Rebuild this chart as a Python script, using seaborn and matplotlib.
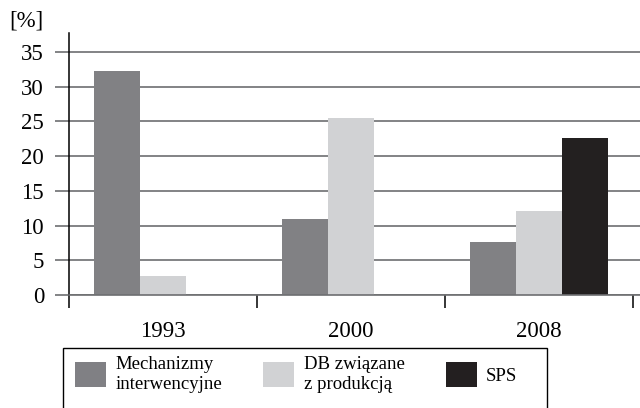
import pandas as pd
import matplotlib.pyplot as plt
import seaborn as sns
from matplotlib.patches import Patch, Rectangle

years = ["1993", "2000", "2008"]
series = ["Mechanizmy\ninterwencyjne", "DB związane\nz produkcją", "SPS"]
mechanizmy = [32.2, 10.9, 7.6]
db_produkcja = [2.8, 25.4, 12.1]
sps = [0, 0, 22.6]
colors = ["#808084", "#d1d2d4", "#231f20"]

df = pd.DataFrame({
    "rok": years * 3,
    "seria": [series[0]] * 3 + [series[1]] * 3 + [series[2]] * 3,
    "wartosc": mechanizmy + db_produkcja + sps,
})

plt.rcParams["font.family"] = ["Liberation Serif", "DejaVu Serif"]

W, H = 640, 408
fig = plt.figure(figsize=(6.4, 4.08), dpi=100)
ax = fig.add_axes([69 / W, (H - 295) / H, (W - 69) / W, (295 - 33) / H])

sns.barplot(data=df, x="rok", y="wartosc", hue="seria", order=years,
            hue_order=series, palette=colors, width=0.73, errorbar=None,
            linewidth=0, legend=False, ax=ax)

grid_col = "#6d6e71"
ax.set_ylim(0, 37.7)
ax.set_xlim(-0.5, 2.537)
ax.set_yticks(range(0, 40, 5))
ax.yaxis.grid(True, color=grid_col, linewidth=1.2)
ax.set_axisbelow(True)
ax.tick_params(axis="y", direction="out", length=10, width=1.2, color=grid_col,
               labelsize=16.5, pad=8)
ax.set_xticks([0, 1, 2])
ax.set_xticklabels(years)
ax.tick_params(axis="x", which="major", length=0, labelsize=16.5, pad=19)
ax.set_xticks([-0.5, 0.5, 1.5, 2.5], minor=True)
ax.tick_params(axis="x", which="minor", direction="out", length=9.5, width=1.1,
               color="black")
ax.set_xlabel("")
ax.set_ylabel("")
for s in ["top", "right"]:
    ax.spines[s].set_visible(False)
ax.spines["left"].set_color("black")
ax.spines["left"].set_linewidth(1.1)
ax.spines["bottom"].set_color(grid_col)
ax.spines["bottom"].set_linewidth(1.2)

fig.text(26 / W, 1 - 21 / H, "[%]", fontsize=16.5, ha="center", va="center")

# legend frame (runs past the bottom edge of the picture)
fig.patches.append(Rectangle((62.7 / W, -0.05), (547 - 62.7) / W,
                             (H - 347.7) / H + 0.05, transform=fig.transFigure,
                             fill=False, edgecolor="black", linewidth=1.0))
handles = [Patch(facecolor=c, edgecolor="none") for c in colors]
fig.legend(handles, series, loc="upper left",
           bbox_to_anchor=(75 / W, 1 - 356 / H), frameon=False, ncol=3,
           fontsize=13.5, handlelength=1.65, handleheight=1.65,
           handletextpad=0.5, columnspacing=2.2, borderpad=0, borderaxespad=0)

fig.savefig("out.png", dpi=100)
